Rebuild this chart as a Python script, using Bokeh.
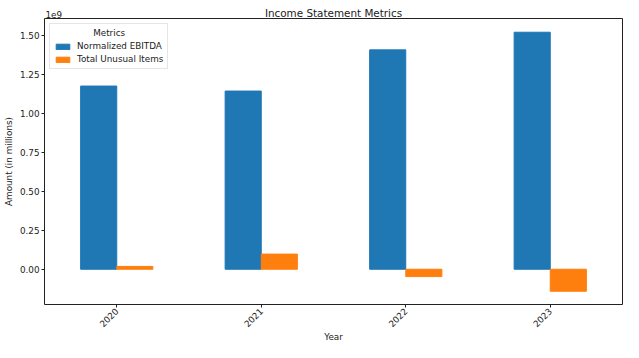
import math
from bokeh.plotting import figure
from bokeh.models import ColumnDataSource, FactorRange, Range1d, FixedTicker, Legend, LegendItem, Title
from bokeh.transform import dodge
from bokeh.embed import file_html
from bokeh.resources import INLINE

years = ["2020", "2021", "2022", "2023"]
normalized_ebitda = [1.174e9, 1.142e9, 1.406e9, 1.519e9]
total_unusual_items = [0.018e9, 0.097e9, -0.047e9, -0.141e9]
y_ticks = [0, 0.25e9, 0.5e9, 0.75e9, 1.0e9, 1.25e9, 1.5e9]
y_tick_labels = ["0.00", "0.25", "0.50", "0.75", "1.00", "1.25", "1.50"]

src = ColumnDataSource(dict(year=years, ebitda=normalized_ebitda, unusual=total_unusual_items,
                            zero=[0] * len(years)))

FONT = "DejaVu Sans"
FS = "8.8px"
TXT = "#222222"
p = figure(x_range=FactorRange(*years), y_range=Range1d(-0.226e9, 1.607e9),
           width=623, height=342, output_backend="svg", toolbar_location=None,
           min_border_left=44, min_border_right=1, min_border_top=18, min_border_bottom=37)
p.x_range.range_padding = 0

# "1e9" offset text (row next to the frame, text raised to sit beside the title)
exp_title = Title(text="1e9", align="left", vertical_align="top", text_font=FONT,
                  text_font_size=FS, text_font_style="normal", text_color=TXT,
                  standoff=-2, offset=1)
p.add_layout(exp_title, "above")
main_title = Title(text="Income Statement Metrics", align="center", vertical_align="bottom",
                   text_font=FONT, text_font_size="10.4px", text_font_style="normal",
                   text_color=TXT, standoff=-14, offset=0)
p.add_layout(main_title, "above")

r1 = p.vbar(x=dodge("year", -0.125, range=p.x_range), top="ebitda", bottom="zero", width=0.25,
            source=src, fill_color="#1f77b4", line_color="#1f77b4")
r2 = p.vbar(x=dodge("year", 0.125, range=p.x_range), top="unusual", bottom="zero", width=0.25,
            source=src, fill_color="#ff7f0e", line_color="#ff7f0e")

p.xgrid.visible = False
p.ygrid.visible = False
p.outline_line_color = TXT
p.outline_line_width = 1

for ax in (p.xaxis[0], p.yaxis[0]):
    ax.axis_line_color = None
    ax.major_tick_line_color = TXT
    ax.major_tick_in = 0
    ax.major_tick_out = 3
    ax.minor_tick_line_color = None
    ax.major_label_text_font = FONT
    ax.major_label_text_font_size = FS
    ax.major_label_text_color = TXT
    ax.axis_label_text_font = FONT
    ax.axis_label_text_font_size = FS
    ax.axis_label_text_font_style = "normal"
    ax.axis_label_text_color = TXT
    ax.major_label_standoff = 2
    ax.axis_label_standoff = 3

p.yaxis.ticker = FixedTicker(ticks=y_ticks)
p.yaxis.major_label_overrides = {t: l for t, l in zip(y_ticks, y_tick_labels)}
p.yaxis.axis_label = "Amount (in millions)"
p.xaxis.major_label_orientation = math.pi / 4
p.xaxis.major_label_standoff = 2
p.xaxis.group_text_font_size = FS

x_title = Title(text="Year", align="center", vertical_align="top", text_font=FONT,
                text_font_size=FS, text_font_style="normal", text_color=TXT,
                standoff=-3, offset=0)
p.add_layout(x_title, "below")

legend = Legend(items=[LegendItem(label="Normalized EBITDA", renderers=[r1]),
                       LegendItem(label="Total Unusual Items", renderers=[r2])],
                location="top_left", title="\u00a0" * 14 + "Metrics")
legend.title_text_font = FONT
legend.title_text_font_size = FS
legend.title_text_font_style = "normal"
legend.title_text_color = TXT
legend.label_text_font = FONT
legend.label_text_font_size = FS
legend.label_text_color = TXT
legend.label_height = 10
legend.label_standoff = 6
legend.glyph_height = 7
legend.glyph_width = 17
legend.spacing = 3
legend.padding = 4
legend.margin = 5
legend.border_line_color = "#cccccc"
legend.border_line_width = 1
legend.background_fill_alpha = 0.8
legend.title_standoff = 3
p.add_layout(legend)

open("out.html", "w").write(file_html(p, INLINE))
